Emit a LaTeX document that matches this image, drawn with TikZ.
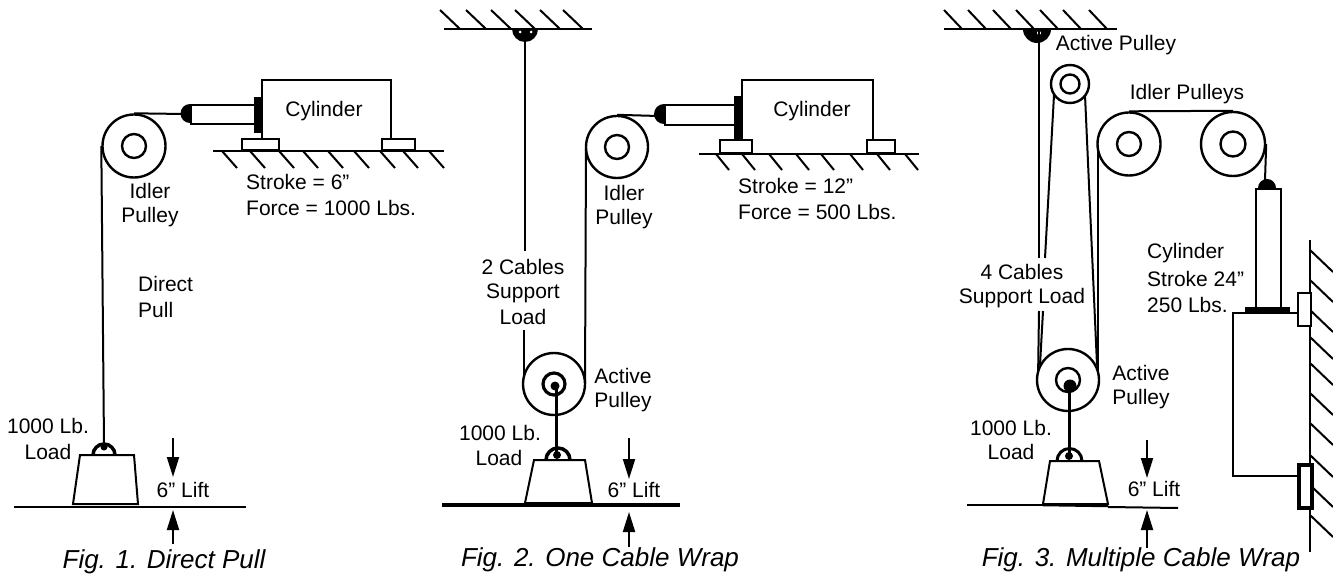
\documentclass[tikz,border=0pt]{standalone}
\usepackage{fontspec}
\setmainfont{Liberation Sans}
\usetikzlibrary{arrows.meta}
\tikzset{
  ln/.style={line width=2pt,black},
  lbl/.style={font=\fontsize{21}{26}\selectfont,inner sep=0pt,align=center},
  lbll/.style={font=\fontsize{21}{26}\selectfont,inner sep=0pt,align=left},
  captxt/.style={font=\fontsize{26}{30}\selectfont\itshape,inner sep=0pt},
  arr/.style={line width=2pt,-{Triangle[length=20pt,width=12pt]}},
  pul/.style={circle,draw,line width=2.4pt,fill=white,inner sep=0pt},
  blk/.style={fill=black,draw=none},
  bx/.style={draw,line width=2.2pt,fill=white,inner sep=0pt},
  open/.style={line width=2.2pt,line join=miter},
}
\begin{document}
\begin{tikzpicture}[x=1pt,y=-1pt]
\useasboundingbox (0,0) rectangle (1333,577);
% ---------- Fig 1
\draw[ln] (213,151) -- (444,151);
\foreach \x in {222,250,279,303,328,354,380,403,429} \draw[ln] (\x,151) -- ++(15,17);
\draw[open] (262,140) -- (262,80) -- (391,80) -- (391,140);
\node[bx,minimum width=37pt,minimum height=11pt,anchor=south west] (f1a) at (241,151) {};
\node[bx,minimum width=33pt,minimum height=11pt,anchor=south west] (f1b) at (381,151) {};
\node[bx,minimum width=65pt,minimum height=19pt,anchor=north west] (r1) at (190,104) {};
\fill (190,104) arc (270:90:9.5) -- cycle;
\fill (254,97) rectangle (261,133);
\node[pul,minimum size=63pt] (p1) at (134,146) {};
\node[pul,minimum size=24pt] (p1i) at (134,146) {};
\coordinate (b1) at (184,114);
\draw[ln] (p1.north) -- (b1);
\coordinate (l1) at (104,445);
\draw[ln] (p1.west) -- (l1);
\draw[line width=3.5pt] (93,455) arc (180:360:11);
\fill (104,447) circle (3.5);
\draw[ln,fill=white] (80,455) -- (134,455) -- (138,504) -- (73,504) -- cycle;
\draw[ln] (14,507) -- (246,507);
\draw[arr] (173,438) -- (173,477);
\draw[arr] (173,544) -- (173,510);
\node[lbl] (t11) at (324,111) {Cylinder};
\node[lbll,anchor=west] (t12) at (246,182) {Stroke = 6”};
\node[lbll,anchor=west] (t13) at (246,208) {Force = 1000 Lbs.};
\node[lbl] (t14) at (150,191) {Idler};
\node[lbl] (t15) at (150,217) {Pulley};
\node[lbll,anchor=west] (t16) at (138,284) {Direct};
\node[lbll,anchor=west] (t17) at (138,310) {Pull};
\node[lbl] (t18) at (48,426) {1000 Lb.};
\node[lbl] (t19) at (48,452) {Load};
\node[lbl] (t110) at (183,490) {6” Lift};
\node[captxt] (t111) at (164,562) {Fig. 1. Direct Pull};
% ---------- Fig 2
\draw[ln] (444,29) -- (592,29);
\foreach \x in {460,486,511,535,560,583} \draw[ln] (\x,29) -- ++(-20,-19);
\draw[blk] (512,29) arc (180:0:13) -- cycle;
\fill[white] (520,32) circle (1.5) (531,32) circle (1.5);
\draw[ln] (525,29) -- (525,251);
\draw[ln] (524,330) -- (524,384);
\draw[ln] (586,147) -- (585,384);
\node[pul,minimum size=62pt] (p2) at (554,384) {};
\node[circle,draw,line width=3.2pt,fill=white,minimum size=22pt,inner sep=0pt] (p2i) at (554,384) {};
\fill (555,386) circle (4.5);
\draw[line width=3pt] (556,386) -- (556,452);
\draw[line width=3.5pt] (546,460) arc (180:360:12);
\fill (557,455) circle (4);
\draw[ln,fill=white] (534,460) -- (585,460) -- (592,503) -- (525,503) -- cycle;
\draw[line width=4.5pt] (442,505) -- (680,505);
\draw[arr] (629,438) -- (629,479);
\draw[arr] (629,547) -- (629,512);
\node[pul,minimum size=62pt] (p2t) at (617,147) {};
\node[pul,minimum size=24pt] (p2ti) at (617,147) {};
\draw[ln] (699,154) -- (919,154);
\foreach \x in {716,742,769,796,821,850,877,905} \draw[ln] (\x,154) -- ++(13,16);
\draw[open] (742,141) -- (742,80) -- (873,80) -- (873,141);
\node[bx,minimum width=32pt,minimum height=13pt,anchor=south west] (f2a) at (719,154) {};
\node[bx,minimum width=28pt,minimum height=13pt,anchor=south west] (f2b) at (866,154) {};
\node[bx,minimum width=71pt,minimum height=20pt,anchor=north west] (r2) at (664,104) {};
\fill (664,104) arc (270:90:10) -- cycle;
\fill (734,96) rectangle (742,141);
\draw[ln] (p2t.north) -- (658,116);
\node[lbl] (t21) at (812,111) {Cylinder};
\node[lbll,anchor=west] (t22) at (738,186) {Stroke = 12”};
\node[lbll,anchor=west] (t23) at (738,212) {Force = 500 Lbs.};
\node[lbl] (t24) at (624,193) {Idler};
\node[lbl] (t25) at (624,219) {Pulley};
\node[lbl] (t26) at (523,267) {2 Cables};
\node[lbl] (t27) at (523,293) {Support};
\node[lbl] (t28) at (523,317) {Load};
\node[lbl] (t29) at (500,433) {1000 Lb.};
\node[lbl] (t210) at (499,458) {Load};
\node[lbl] (t211) at (623,376) {Active};
\node[lbl] (t212) at (623,402) {Pulley};
\node[lbl] (t213) at (634,490) {6” Lift};
\node[captxt] (t214) at (600,560) {Fig. 2. One Cable Wrap};
% ---------- Fig 3
\draw[ln] (944,29) -- (1117,29);
\foreach \x in {962,986,1011,1034,1058,1081,1107} \draw[ln] (\x,29) -- ++(-18,-19);
\draw[blk] (1023,29) arc (180:0:14) -- cycle;
\fill[white] (1039,33) circle (2);
\draw[ln] (1039,29) -- (1039,258);
\draw[ln] (1039,311) -- (1038,380);
\draw[ln] (1054,95) -- (1045,258);
\draw[ln] (1043,311) -- (1040,365);
\draw[ln] (1085,95) -- (1097,365);
\draw[ln] (1098,144) -- (1098,380);
\node[pul,minimum size=38pt] (p3s) at (1070,84) {};
\node[pul,minimum size=19pt] (p3si) at (1070,84) {};
\node[pul,minimum size=62pt] (p3) at (1068,380) {};
\node[pul,minimum size=24pt] (p3i) at (1068,380) {};
\fill (1070,386) circle (6.5);
\draw[line width=3pt] (1069,386) -- (1069,456);
\draw[line width=3pt] (1057,461) arc (180:360:12.5);
\fill (1069,456) circle (4);
\draw[ln,fill=white] (1050,461) -- (1099,461) -- (1108,504) -- (1043,504) -- cycle;
\draw[ln] (967,505) -- (1043,505);
\draw[line width=2.5pt] (1043,505) -- (1108,506);
\draw[ln] (1108,507) -- (1178,508);
\draw[arr] (1147,440) -- (1147,478);
\draw[arr] (1147,548) -- (1147,510);
\node[pul,minimum size=63pt] (p3a) at (1129,144) {};
\node[pul,minimum size=24pt] (p3ai) at (1129,144) {};
\node[pul,minimum size=64pt] (p3b) at (1233,144) {};
\node[pul,minimum size=25pt] (p3bi) at (1233,144) {};
\draw[ln] (p3a.north) -- (p3b.north);
\draw[ln] (p3b.east) -- (1265,180);
\node[bx,minimum width=25pt,minimum height=119pt,anchor=north west] (r3) at (1255,188) {};
\fill (1258,188) arc (180:360:9) -- cycle;
\draw[open] (1297,313) -- (1233,313) -- (1233,476) -- (1297,476);
\fill (1245,307) rectangle (1290,314);
\draw[ln] (1310,240) -- (1310,552);
\foreach \y in {250,280,310,337,363,393,423,455,485,515} \draw[ln] (1310,\y) -- ++(23,22);
\node[bx,minimum width=13pt,minimum height=33pt,anchor=north west] (f3a) at (1297,292) {};
\node[draw,line width=4pt,fill=white,inner sep=0pt,minimum width=13pt,minimum height=43pt,anchor=north west] (f3b) at (1297,463) {};
\node[lbl] (t31) at (1116,45) {Active Pulley};
\node[lbl] (t32) at (1187,94) {Idler Pulleys};
\node[lbl] (t33) at (1022,272) {4 Cables};
\node[lbl] (t34) at (1022,298) {Support Load};
\node[lbl] (t35) at (1011,428) {1000 Lb.};
\node[lbl] (t36) at (1011,452) {Load};
\node[lbl] (t37) at (1141,373) {Active};
\node[lbl] (t38) at (1141,399) {Pulley};
\node[lbl] (t39) at (1154,489) {6” Lift};
\node[lbll,anchor=west] (t310) at (1147,253) {Cylinder};
\node[lbll,anchor=west] (t311) at (1147,279) {Stroke 24”};
\node[lbll,anchor=west] (t312) at (1147,305) {250 Lbs.};
\node[captxt] (t313) at (1141,560) {Fig. 3. Multiple Cable Wrap};
\end{tikzpicture}
\end{document}
